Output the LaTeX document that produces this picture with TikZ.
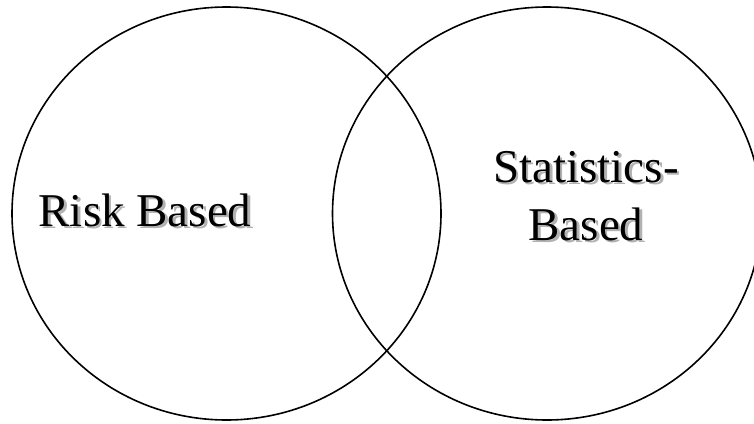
\documentclass[tikz,border=0pt]{standalone}
\usepackage{fontspec}
\setmainfont{Liberation Serif}
\tikzset{
  venn/.style={draw=black, line width=1.6pt},
  lbl/.style={font=\fontsize{47}{58}\selectfont, align=center, inner sep=0pt, text=black},
  lblshadow/.style={lbl, text=black!30},
}
\begin{document}
\begin{tikzpicture}[x=1pt,y=-1pt]
\useasboundingbox (0,0) rectangle (754,423);
\clip (0,0) rectangle (754,423);
\draw[venn] (226.5,213.5) ellipse [x radius=214.5, y radius=206.5];
\draw[venn] (547,213.5) ellipse [x radius=214.5, y radius=206.5];
\node[lblshadow] (riskS) at (147.5,212.5) {Risk Based};
\node[lbl] (risk) at (145,210) {Risk Based};
\node[lblshadow] (statS) at (588.5,198.5) {Statistics-\\Based};
\node[lbl] (stat) at (586,196) {Statistics-\\Based};
\end{tikzpicture}
\end{document}
